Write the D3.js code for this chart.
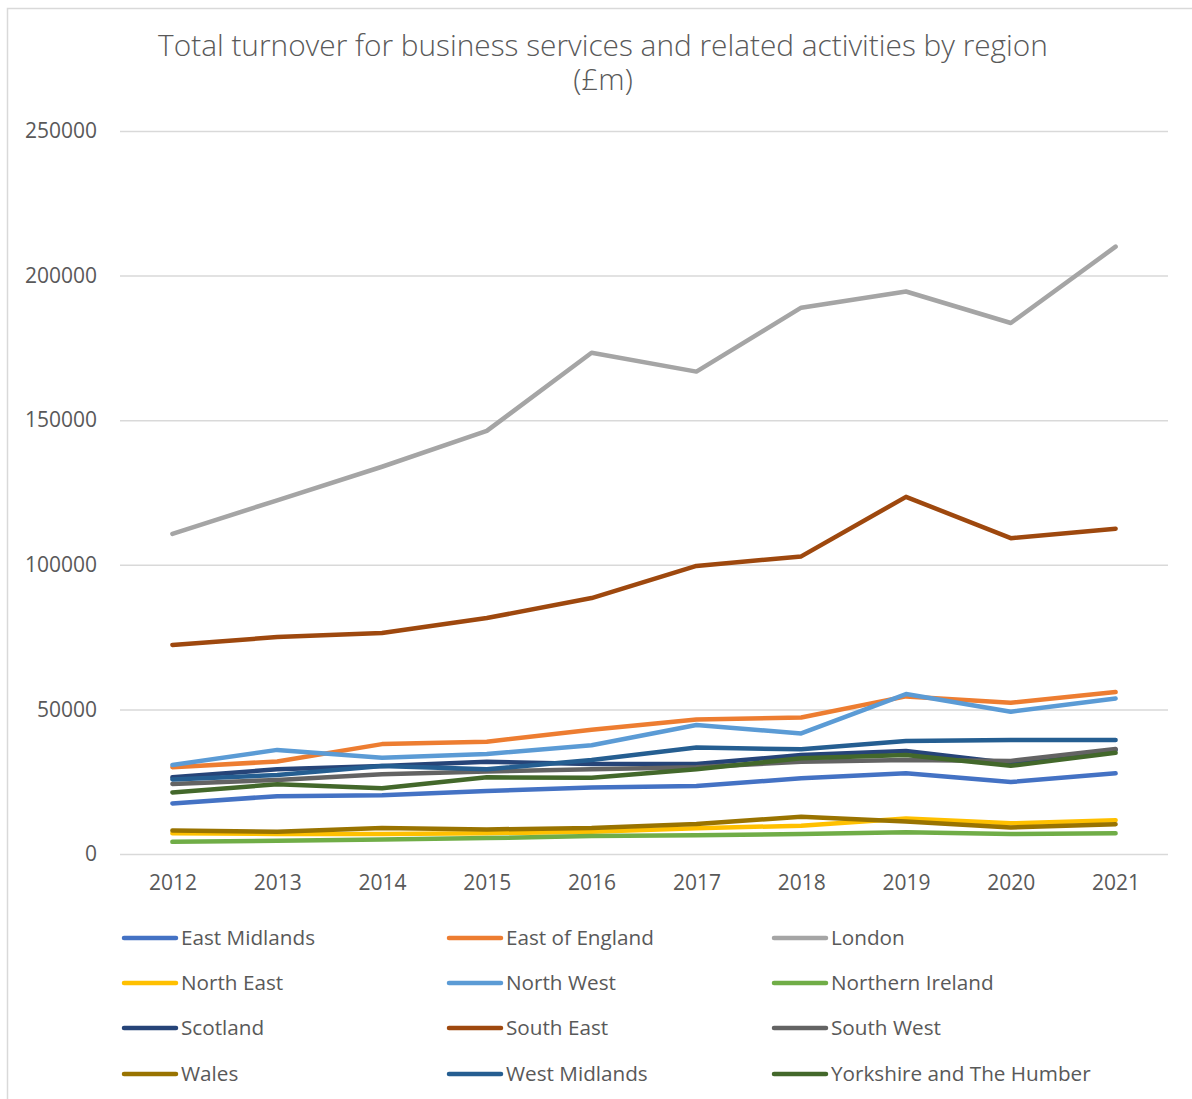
<!DOCTYPE html>
<html>
<head>
<meta charset="utf-8">
<script src="https://cdn.jsdelivr.net/npm/d3@7"></script>
<style>
  html, body { margin: 0; padding: 0; background: #fff; }
  svg { display: block; }
  text { font-family: "Open Sans", "Noto Sans", sans-serif; fill: #595959; }
</style>
</head>
<body>
<svg id="chart" width="1192" height="1099"></svg>
<script>
// Turnover by region, £m, 2012–2021
const years = ["2012","2013","2014","2015","2016","2017","2018","2019","2020","2021"];
const regions = ["East Midlands","East of England","London","North East","North West","Northern Ireland",
                 "Scotland","South East","South West","Wales","West Midlands","Yorkshire and The Humber"];
const colors = ["#4472C4","#ED7D31","#A5A5A5","#FFC000","#5B9BD5","#70AD47",
                "#264478","#9E480E","#636363","#997300","#255E91","#43682B"];

const eastMidlands   = [17500, 20000, 20300, 21800, 23000, 23500, 26200, 27900, 24900, 27900];
const eastOfEngland  = [30000, 32000, 38000, 38800, 43000, 46500, 47200, 54500, 52300, 56000];
const london         = [110700, 122300, 133900, 146300, 173300, 166800, 188900, 194500, 183600, 210000];
const northEast      = [7200, 6900, 6900, 7200, 7700, 8900, 9800, 12300, 10600, 11700];
const northWest      = [30800, 36000, 33300, 34600, 37600, 44600, 41700, 55300, 49200, 53800];
const northernIreland= [4200, 4600, 5000, 5500, 6200, 6500, 6900, 7500, 6900, 7200];
const scotland       = [26500, 29300, 30400, 31900, 31100, 31100, 34200, 35600, 31400, 36000];
const southEast      = [72300, 75000, 76400, 81600, 88500, 99600, 102900, 123500, 109200, 112500];
const southWest      = [24200, 25600, 27600, 28500, 29300, 30000, 31900, 32500, 32200, 36300];
const wales          = [8100, 7700, 9000, 8500, 9000, 10400, 12900, 11200, 9200, 10300];
const westMidlands   = [25800, 27300, 30400, 29300, 32500, 36800, 36200, 39100, 39400, 39400];
const yorkshire      = [21300, 24100, 22700, 26500, 26400, 29300, 33100, 34200, 30500, 35000];

const yTicks = [0, 50000, 100000, 150000, 200000, 250000];

const seriesValues = [eastMidlands, eastOfEngland, london, northEast, northWest, northernIreland,
                      scotland, southEast, southWest, wales, westMidlands, yorkshire];
const series = regions.map((name, i) => ({ name, color: colors[i], values: seriesValues[i] }));

const svg = d3.select("#chart");

// outer chart frame
svg.append("rect")
  .attr("x", 7.5).attr("y", 8.5)
  .attr("width", 1200).attr("height", 1200)
  .attr("fill", "none").attr("stroke", "#d9d9d9").attr("stroke-width", 1.5);

const plot = { left: 120, right: 1168, top: 131, bottom: 854 };

const x = d3.scalePoint().domain(years).range([plot.left, plot.right]).padding(0.5);
const y = d3.scaleLinear().domain([0, 250000]).range([plot.bottom, plot.top]);

// two-line title
const titleLines = ["Total turnover for business services and related activities by region", "(£m)"];
svg.append("g").selectAll("text")
  .data(titleLines)
  .join("text")
  .attr("x", 603)
  .attr("y", (d, i) => 56 + i * 34)
  .attr("text-anchor", "middle")
  .style("font-size", "29.8px")
  .style("font-weight", 300)
  .text(d => d);

// horizontal gridlines and y labels
const yAxis = d3.axisLeft(y).tickValues(yTicks)
  .tickSize(-(plot.right - plot.left)).tickPadding(23)
  .tickFormat(d3.format("d"));
const gy = svg.append("g").attr("transform", `translate(${plot.left},0)`).call(yAxis);
gy.select(".domain").remove();
gy.selectAll(".tick line").attr("stroke", "#d9d9d9").attr("stroke-width", 1.5);
gy.selectAll(".tick text").style("font-size", "21px").attr("fill", "#595959")
  .attr("font-family", null);

// x labels
const xAxis = d3.axisBottom(x).tickSize(0).tickPadding(21);
const gx = svg.append("g").attr("transform", `translate(0,${plot.bottom})`).call(xAxis);
gx.select(".domain").remove();
gx.selectAll(".tick text").style("font-size", "21px").attr("fill", "#595959")
  .attr("font-family", null);

// series lines
const line = d3.line().x((d, i) => x(years[i])).y(d => y(d));
svg.append("g").selectAll("path")
  .data(series)
  .join("path")
  .attr("d", d => line(d.values))
  .attr("fill", "none")
  .attr("stroke", d => d.color)
  .attr("stroke-width", 4.5)
  .attr("stroke-linejoin", "round")
  .attr("stroke-linecap", "round");

// legend: 3 columns x 4 rows
const legend = svg.append("g");
const colX = [122, 447, 772];
const rowY = [938, 983, 1028, 1074];
series.forEach((s, i) => {
  const cx = colX[i % 3], cy = rowY[Math.floor(i / 3)];
  legend.append("line")
    .attr("x1", cx + 2).attr("x2", cx + 54)
    .attr("y1", cy).attr("y2", cy)
    .attr("stroke", s.color).attr("stroke-width", 4.5).attr("stroke-linecap", "round");
  legend.append("text")
    .attr("x", cx + 59).attr("y", cy)
    .attr("dy", "0.35em")
    .style("font-size", "20.7px")
    .text(s.name);
});
</script>
</body>
</html>
